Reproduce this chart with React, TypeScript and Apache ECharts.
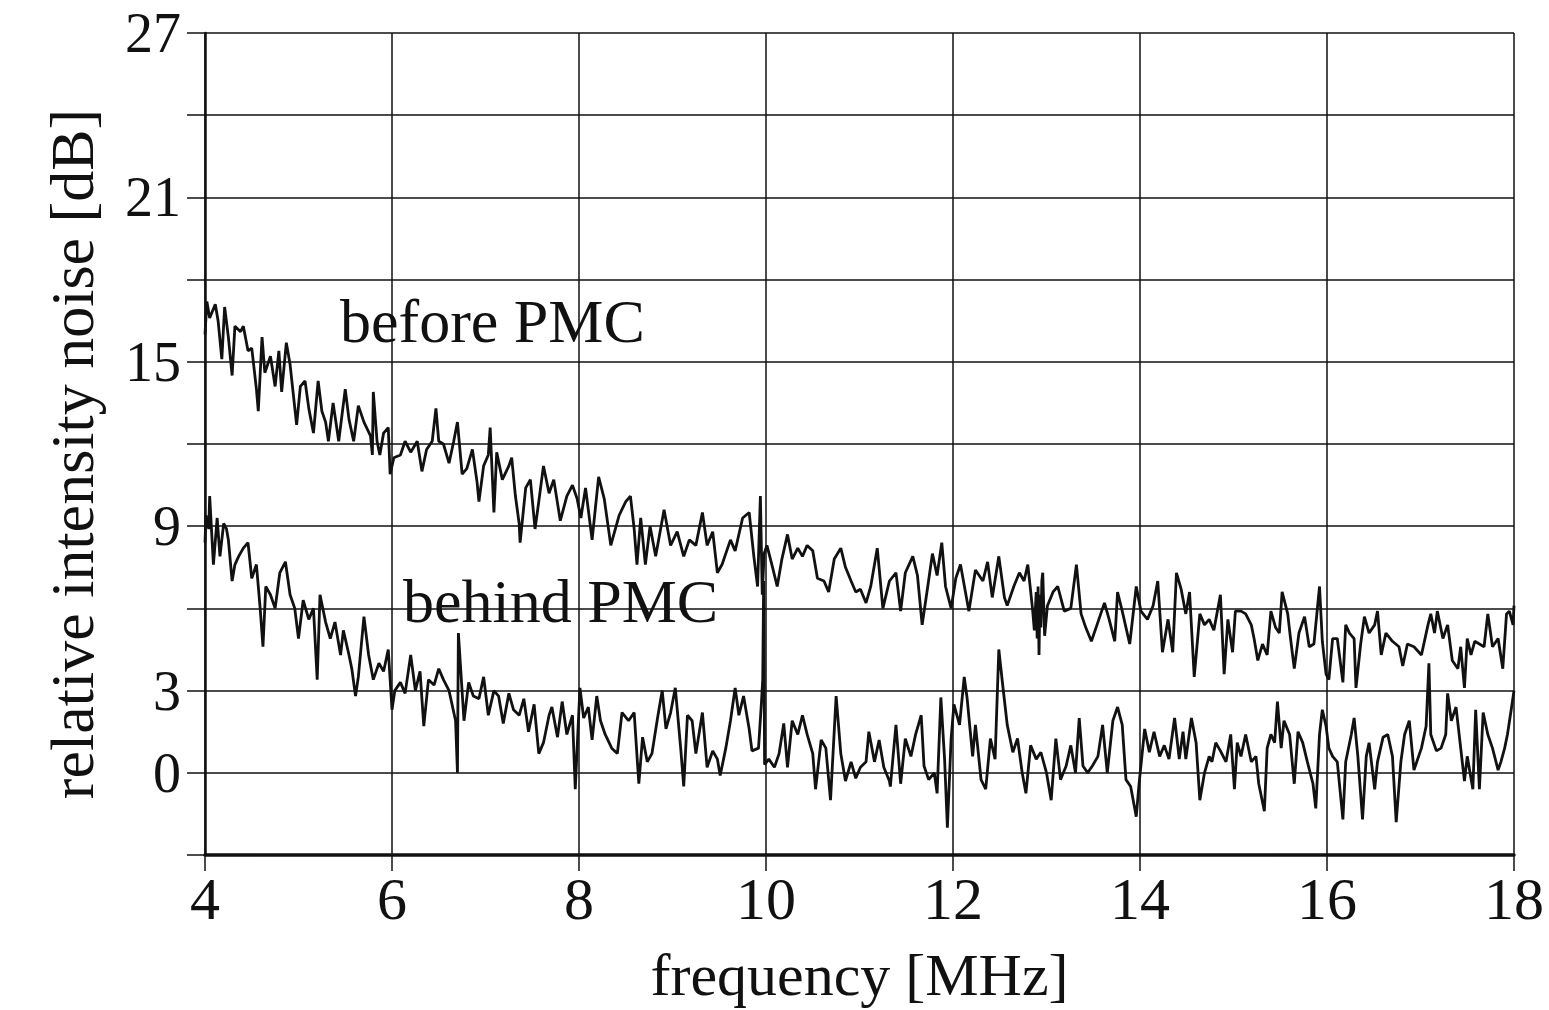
import React, { useEffect, useRef } from "react";
import * as echarts from "echarts";

// x tick values (MHz) and y ticks shown as labels (dB)
const xTicks = [4, 6, 8, 10, 12, 14, 16, 18];
const yLabelValues = [27, 21, 15, 9, 3, 0];

// "before PMC" trace: frequency (MHz) and relative intensity noise (dB)
const beforeFreq = [
  4.00, 4.02, 4.05, 4.11, 4.14, 4.18, 4.21, 4.25, 4.29, 4.32, 4.38, 4.41, 4.46, 4.50, 4.55, 4.57, 4.61, 4.64, 4.70, 4.75,
  4.79, 4.82, 4.87, 4.91, 4.98, 5.02, 5.07, 5.11, 5.16, 5.21, 5.25, 5.29, 5.32, 5.37, 5.43, 5.50, 5.54, 5.59, 5.64, 5.70,
  5.77, 5.79, 5.80, 5.84, 5.87, 5.91, 5.96, 5.98, 6.02, 6.09, 6.14, 6.20, 6.27, 6.32, 6.37, 6.43, 6.47, 6.50, 6.55, 6.61,
  6.66, 6.70, 6.75, 6.80, 6.86, 6.91, 6.93, 6.98, 7.03, 7.05, 7.09, 7.12, 7.18, 7.25, 7.28, 7.32, 7.36, 7.37, 7.43, 7.48,
  7.53, 7.57, 7.62, 7.68, 7.73, 7.80, 7.87, 7.93, 7.98, 8.02, 8.07, 8.14, 8.21, 8.27, 8.34, 8.43, 8.50, 8.55, 8.59, 8.62,
  8.66, 8.71, 8.76, 8.82, 8.91, 8.98, 9.05, 9.12, 9.18, 9.25, 9.32, 9.37, 9.43, 9.48, 9.53, 9.62, 9.67, 9.75, 9.82, 9.87,
  9.91, 9.94, 9.96, 9.98, 10.01, 10.07, 10.12, 10.17, 10.23, 10.28, 10.34, 10.39, 10.44, 10.50, 10.55, 10.62, 10.67, 10.73, 10.80, 10.85,
  10.91, 10.96, 11.01, 11.07, 11.12, 11.19, 11.25, 11.32, 11.39, 11.44, 11.49, 11.57, 11.62, 11.67, 11.73, 11.78, 11.83, 11.88, 11.92, 11.98,
  12.03, 12.08, 12.17, 12.24, 12.32, 12.37, 12.42, 12.49, 12.55, 12.58, 12.65, 12.71, 12.76, 12.80, 12.85, 12.87, 12.89, 12.90, 12.91, 12.92,
  12.93, 12.94, 12.95, 12.96, 12.98, 13.01, 13.07, 13.12, 13.19, 13.26, 13.32, 13.37, 13.42, 13.48, 13.55, 13.62, 13.67, 13.73, 13.76, 13.81,
  13.89, 13.96, 14.01, 14.08, 14.14, 14.19, 14.24, 14.30, 14.35, 14.39, 14.44, 14.49, 14.53, 14.58, 14.64, 14.69, 14.74, 14.79, 14.86, 14.90,
  14.94, 14.99, 15.02, 15.08, 15.13, 15.19, 15.22, 15.26, 15.31, 15.36, 15.40, 15.45, 15.49, 15.52, 15.58, 15.61, 15.65, 15.70, 15.76, 15.81,
  15.86, 15.92, 15.95, 15.99, 16.02, 16.06, 16.11, 16.17, 16.20, 16.24, 16.29, 16.31, 16.36, 16.40, 16.45, 16.51, 16.54, 16.58, 16.63, 16.70,
  16.77, 16.81, 16.86, 16.93, 17.01, 17.08, 17.11, 17.15, 17.18, 17.24, 17.29, 17.34, 17.40, 17.43, 17.47, 17.50, 17.54, 17.58, 17.63, 17.68,
  17.72, 17.77, 17.83, 17.88, 17.92, 17.95, 17.99, 18.00,
];
const beforeDb = [
  16.0, 17.2, 16.6, 17.1, 16.5, 15.1, 17.0, 15.9, 14.5, 16.3, 16.1, 16.3, 15.4, 15.5, 14.0, 13.2, 15.9, 14.6, 15.2, 14.1,
  15.4, 13.9, 15.7, 14.9, 12.7, 14.1, 14.3, 13.3, 12.4, 14.3, 13.2, 12.8, 12.1, 13.5, 12.1, 14.0, 12.9, 12.1, 13.4, 12.8,
  12.3, 11.6, 13.9, 12.1, 11.6, 12.4, 12.6, 10.9, 11.5, 11.6, 12.1, 11.7, 12.1, 11.0, 11.8, 12.1, 13.3, 12.1, 12.0, 11.3,
  12.1, 12.8, 10.9, 11.1, 11.8, 10.6, 9.9, 11.2, 11.6, 12.6, 9.5, 11.7, 10.7, 11.2, 11.5, 10.1, 9.1, 8.4, 10.4, 10.7,
  8.9, 9.9, 11.2, 10.2, 10.7, 9.2, 10.1, 10.5, 10.0, 9.3, 10.4, 8.5, 10.8, 10.0, 8.3, 9.4, 9.9, 10.1, 8.9, 7.6,
  9.3, 7.6, 9.0, 7.9, 9.6, 8.3, 8.8, 7.9, 8.5, 8.3, 9.5, 8.3, 8.8, 7.3, 7.6, 8.5, 8.1, 9.3, 9.5, 7.9,
  6.8, 10.1, 6.5, 8.0, 8.3, 7.5, 6.8, 7.8, 8.7, 7.8, 8.2, 7.9, 8.3, 8.1, 7.1, 7.0, 6.6, 7.8, 8.2, 7.5,
  7.0, 6.6, 6.7, 6.2, 6.8, 8.2, 6.0, 7.0, 7.3, 5.9, 7.3, 7.9, 7.2, 5.4, 6.8, 8.0, 7.2, 8.4, 6.8, 6.0,
  7.1, 7.6, 5.9, 7.4, 7.0, 7.7, 6.4, 7.9, 6.4, 6.1, 6.8, 7.3, 7.0, 7.6, 6.0, 5.2, 6.6, 4.9, 6.8, 4.3,
  6.5, 5.3, 7.0, 7.3, 5.0, 6.1, 6.6, 6.8, 5.9, 6.0, 7.6, 5.8, 5.3, 4.8, 5.5, 6.2, 5.6, 4.8, 6.6, 5.9,
  4.7, 6.8, 5.9, 5.6, 6.1, 7.0, 4.4, 5.6, 4.4, 7.3, 6.7, 5.8, 6.6, 3.5, 5.8, 5.4, 5.6, 5.2, 6.5, 3.6,
  5.6, 4.4, 5.9, 5.9, 5.8, 5.4, 4.9, 4.1, 4.7, 4.3, 5.9, 5.3, 5.1, 6.6, 5.8, 4.9, 3.8, 5.1, 5.7, 4.6,
  4.7, 6.8, 4.8, 3.6, 3.4, 4.9, 4.9, 3.3, 5.4, 5.1, 4.9, 3.1, 4.7, 5.7, 5.1, 5.4, 5.9, 4.3, 5.1, 4.8,
  4.6, 3.9, 4.7, 4.6, 4.3, 5.4, 5.8, 5.1, 5.9, 4.9, 5.4, 4.1, 3.8, 4.6, 3.1, 4.9, 4.3, 4.8, 4.7, 4.6,
  5.8, 4.6, 4.9, 3.8, 5.8, 5.9, 5.4, 6.1,
];

// "behind PMC" trace
const behindFreq = [
  4.00, 4.01, 4.04, 4.05, 4.09, 4.13, 4.16, 4.20, 4.23, 4.25, 4.29, 4.32, 4.36, 4.41, 4.46, 4.50, 4.55, 4.59, 4.62, 4.65,
  4.70, 4.75, 4.80, 4.86, 4.91, 4.96, 5.00, 5.05, 5.11, 5.16, 5.20, 5.23, 5.29, 5.34, 5.39, 5.45, 5.48, 5.54, 5.57, 5.61,
  5.64, 5.70, 5.75, 5.80, 5.86, 5.91, 5.96, 6.00, 6.03, 6.09, 6.14, 6.20, 6.25, 6.30, 6.34, 6.39, 6.45, 6.50, 6.55, 6.61,
  6.68, 6.70, 6.71, 6.77, 6.82, 6.87, 6.93, 6.98, 7.03, 7.09, 7.14, 7.19, 7.25, 7.30, 7.36, 7.41, 7.46, 7.52, 7.57, 7.62,
  7.68, 7.71, 7.77, 7.82, 7.87, 7.93, 7.96, 8.01, 8.05, 8.10, 8.14, 8.19, 8.23, 8.28, 8.35, 8.41, 8.46, 8.53, 8.59, 8.64,
  8.68, 8.73, 8.78, 8.84, 8.89, 8.93, 8.98, 9.03, 9.09, 9.12, 9.16, 9.21, 9.25, 9.32, 9.37, 9.43, 9.48, 9.51, 9.57, 9.62,
  9.67, 9.71, 9.76, 9.82, 9.85, 9.92, 9.95, 9.965, 9.975, 9.985, 10.03, 10.09, 10.14, 10.19, 10.23, 10.28, 10.34, 10.39, 10.44, 10.50,
  10.53, 10.59, 10.64, 10.69, 10.75, 10.80, 10.85, 10.91, 10.96, 11.01, 11.07, 11.10, 11.16, 11.21, 11.26, 11.32, 11.33, 11.39, 11.44, 11.49,
  11.55, 11.60, 11.66, 11.69, 11.74, 11.80, 11.83, 11.87, 11.91, 11.94, 11.98, 12.01, 12.07, 12.12, 12.15, 12.21, 12.24, 12.30, 12.35, 12.40,
  12.45, 12.49, 12.53, 12.58, 12.64, 12.69, 12.74, 12.78, 12.83, 12.89, 12.94, 13.00, 13.05, 13.10, 13.15, 13.21, 13.26, 13.31, 13.35, 13.39,
  13.44, 13.49, 13.55, 13.60, 13.65, 13.71, 13.76, 13.81, 13.85, 13.90, 13.96, 13.99, 14.05, 14.10, 14.15, 14.21, 14.26, 14.31, 14.37, 14.42,
  14.46, 14.49, 14.55, 14.60, 14.64, 14.69, 14.74, 14.77, 14.81, 14.86, 14.92, 14.97, 15.01, 15.04, 15.08, 15.13, 15.19, 15.24, 15.27, 15.33,
  15.36, 15.40, 15.44, 15.47, 15.51, 15.54, 15.60, 15.65, 15.69, 15.74, 15.79, 15.85, 15.88, 15.92, 15.95, 15.99, 16.02, 16.06, 16.11, 16.17,
  16.20, 16.26, 16.29, 16.33, 16.38, 16.42, 16.45, 16.51, 16.54, 16.60, 16.65, 16.70, 16.74, 16.79, 16.83, 16.88, 16.93, 17.01, 17.06, 17.09,
  17.11, 17.17, 17.22, 17.27, 17.29, 17.33, 17.38, 17.43, 17.47, 17.50, 17.56, 17.59, 17.63, 17.67, 17.72, 17.77, 17.83, 17.86, 17.90, 17.93,
  17.97, 18.00,
];
const behindDb = [
  8.4, 9.4, 8.9, 10.1, 7.6, 9.3, 7.9, 9.1, 8.9, 8.5, 7.0, 7.6, 7.9, 8.2, 8.4, 7.1, 7.6, 6.0, 4.6, 6.8,
  6.5, 6.0, 7.3, 7.7, 6.5, 6.0, 4.9, 6.3, 5.6, 6.0, 3.4, 6.5, 5.5, 4.9, 5.5, 4.3, 5.2, 4.3, 3.8, 2.8,
  3.5, 5.7, 4.3, 3.4, 4.0, 3.7, 4.5, 2.3, 3.0, 3.3, 2.9, 4.3, 3.0, 3.7, 1.7, 3.4, 3.2, 3.8, 3.4, 3.0,
  1.9, 0.0, 5.1, 1.9, 3.3, 2.8, 2.7, 3.5, 2.1, 3.0, 2.8, 1.8, 2.9, 2.3, 2.1, 2.7, 1.5, 2.5, 0.7, 1.1,
  2.1, 2.4, 1.3, 2.6, 1.4, 2.1, -0.6, 3.1, 2.0, 2.4, 1.2, 2.8, 1.9, 1.4, 0.9, 0.7, 2.2, 1.9, 2.2, -0.4,
  1.3, 0.4, 0.7, 2.0, 3.0, 1.6, 2.2, 3.1, 0.8, -0.5, 2.1, 1.9, 0.7, 2.2, 0.2, 0.8, 0.5, -0.1, 0.9, 1.9,
  3.1, 2.1, 2.8, 1.6, 0.8, 0.9, 2.5, 3.4, 7.0, 0.3, 0.5, 0.2, 0.7, 1.8, 0.2, 1.9, 1.4, 2.1, 1.4, 0.7,
  -0.6, 1.2, 0.9, -1.0, 2.8, 0.7, -0.3, 0.4, -0.2, 0.2, 0.4, 1.5, 0.4, 1.2, 0.2, -0.3, -0.5, 1.75, -0.4, 1.25,
  0.6, 1.4, 2.1, 0.25, -0.25, 0.0, -0.75, 2.75, 0.5, -2.0, 1.25, 2.5, 1.75, 3.5, 2.75, 0.6, 1.75, -0.25, -0.6, 1.25,
  0.5, 4.5, 3.25, 1.75, 0.75, 1.25, 0.0, -0.75, 1.0, 0.5, 0.75, 0.0, -1.0, 1.25, -0.25, 0.25, 1.0, 0.0, 2.0, 0.25,
  0.0, 0.25, 0.6, 1.75, 0.0, 1.9, 2.4, 1.75, -0.25, -0.5, -1.6, -0.4, 1.6, 0.75, 1.5, 0.6, 1.0, 0.5, 2.0, 0.5,
  1.5, 0.5, 2.0, 1.1, -1.0, 0.0, 0.6, 0.4, 1.1, 0.8, 0.4, 1.4, -0.6, 1.1, 0.6, 1.4, 0.4, 0.6, -0.4, -1.4,
  0.9, 1.4, 1.1, 2.6, 0.9, 1.9, 1.4, -0.4, 1.5, 1.1, 0.4, -0.4, -1.3, 1.4, 2.3, 1.7, 0.9, 0.6, 0.4, -1.7,
  0.4, 1.4, 2.0, 0.6, -1.7, 0.6, 1.1, -0.6, 0.4, 1.3, 1.4, 0.6, -1.8, 0.4, 1.4, 1.9, 0.1, 0.9, 1.7, 4.0,
  1.4, 0.8, 0.9, 1.4, 2.9, 1.9, 2.4, 0.9, -0.3, 0.6, -0.6, 2.3, -0.6, 2.2, 1.4, 0.9, 0.1, 0.4, 0.9, 1.4,
  2.3, 3.0,
];

const SERIF = "'Liberation Serif', 'Times New Roman', 'DejaVu Serif', serif";

function zip(xs: number[], ys: number[]) {
  return xs.map((x, i) => [x, ys[i]]);
}

export default function App() {
  const ref = useRef<HTMLDivElement>(null);

  useEffect(() => {
    if (!ref.current) return;
    const chart = echarts.init(ref.current, undefined, { renderer: "svg" });
    const ink = "#111";
    chart.setOption({
      animation: false,
      backgroundColor: "#ffffff",
      grid: {
        left: 205,
        right: 35,
        top: 33,
        bottom: 155,
        containLabel: false,
        outerBoundsMode: "none",
      },
      xAxis: {
        type: "value",
        min: xTicks[0],
        max: xTicks[xTicks.length - 1],
        interval: 2,
        name: "frequency [MHz]",
        nameLocation: "middle",
        nameGap: 90,
        nameTextStyle: { fontFamily: SERIF, fontSize: 60, color: ink },
        axisLine: { show: true, onZero: false, lineStyle: { color: ink, width: 3.5 } },
        axisTick: { show: true, inside: false, length: 16, lineStyle: { color: ink, width: 1.5 } },
        axisLabel: { fontFamily: SERIF, fontSize: 60, color: ink, margin: 14 },
        splitLine: { show: true, lineStyle: { color: ink, width: 1.5 } },
      },
      yAxis: {
        type: "value",
        min: -3,
        max: 27,
        interval: 3,
        axisLine: { show: true, onZero: false, lineStyle: { color: ink, width: 2.5 } },
        axisTick: { show: true, inside: false, length: 18, lineStyle: { color: ink, width: 1.5 } },
        axisLabel: {
          fontFamily: SERIF,
          fontSize: 56,
          color: ink,
          margin: 24,
          formatter: (v: number) => (yLabelValues.indexOf(v) >= 0 ? String(v) : ""),
        },
        splitLine: { show: true, lineStyle: { color: ink, width: 1.5 } },
      },
      graphic: [
        {
          type: "text",
          x: 72,
          y: 454,
          rotation: Math.PI / 2,
          style: {
            text: "relative intensity noise [dB]",
            font: `62px ${SERIF}`,
            fill: ink,
            align: "center",
            verticalAlign: "middle",
          },
          silent: true,
        },
        {
          type: "text",
          left: 340,
          top: 290,
          style: { text: "before PMC", font: `62px ${SERIF}`, fill: ink },
          silent: true,
        },
        {
          type: "text",
          left: 403,
          top: 570,
          style: { text: "behind PMC", font: `62px ${SERIF}`, fill: ink },
          silent: true,
        },
      ],
      series: [
        {
          name: "before PMC",
          type: "line",
          data: zip(beforeFreq, beforeDb),
          showSymbol: false,
          silent: true,
          lineStyle: { color: ink, width: 2.8 },
        },
        {
          name: "behind PMC",
          type: "line",
          data: zip(behindFreq, behindDb),
          showSymbol: false,
          silent: true,
          lineStyle: { color: ink, width: 2.8 },
        },
      ],
    });
    return () => chart.dispose();
  }, []);

  return (
    <div
      ref={ref}
      style={{ position: "absolute", left: 0, top: 0, width: 1549, height: 1010, background: "#fff" }}
    />
  );
}
